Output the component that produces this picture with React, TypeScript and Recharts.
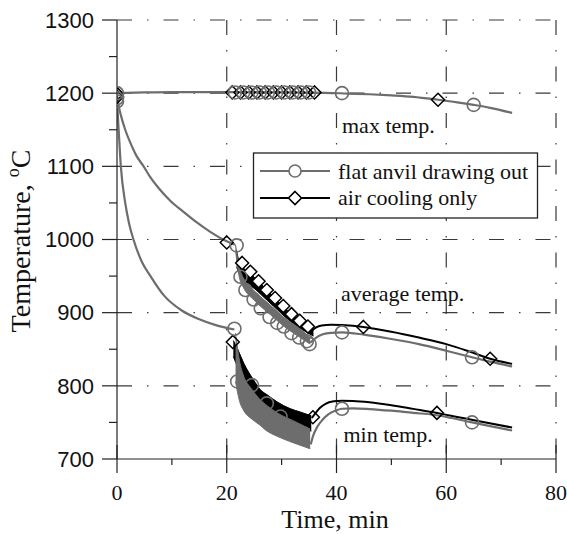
import React from 'react';
import { ComposedChart, Line, Area, Scatter, XAxis, YAxis, CartesianGrid } from 'recharts';

const GRAY = '#6d6d6d';
const BLACK = '#000000';
const AXIS = '#222222';
const SERIF = '"Liberation Serif", "Times New Roman", serif';
const SANS = '"Liberation Sans", Arial, sans-serif';

const xTicks = [0, 10, 20, 30, 40, 50, 60, 70, 80];
const yTicks = [700, 750, 800, 850, 900, 950, 1000, 1050, 1100, 1150, 1200, 1250, 1300];
const xGrid = [20, 40, 60, 80];
const yGrid = [800, 900, 1000, 1100, 1200, 1300];

// max temp. (both cases lie on top of each other)
const maxTemp = [
  [0, 1200], [5, 1201], [10, 1201.5], [20, 1201.5], [30, 1201], [38, 1200.5], [42, 1199.5],
  [46, 1198.5], [50, 1197], [54, 1195], [58.5, 1191], [62, 1187.5], [65, 1184], [68, 1180], [72, 1173],
];

// before forging (both cases identical)
const avgPre = [
  [0, 1197], [0.3, 1183], [0.7, 1170], [1.5, 1150], [2.5, 1131], [3.5, 1115], [4.85, 1100], [6, 1086],
  [7.5, 1071], [9.7, 1053], [12, 1038.5], [14.6, 1023], [17, 1010.5], [20, 997.5], [21.5, 993],
];
const minPre = [
  [0, 1195], [0.15, 1170], [0.3, 1150], [0.7, 1100], [1.5, 1050], [2.2, 1022], [3, 1000], [4.5, 970],
  [6.1, 950], [8.5, 924], [11.8, 903], [15, 891], [18, 883], [21.4, 877],
];

// forging passes: [time, low, high]
const avgAirBand = [
  [21.8, 962, 985], [22.2, 955, 972], [25.5, 930, 945], [28.5, 909, 922], [31.6, 888, 899], [35.8, 868, 877],
];
const avgFlatBand = [
  [21.6, 985, 993], [22.3, 948, 962], [23, 935, 948], [25, 917, 930], [28, 897, 910], [31, 878, 890],
  [33, 868, 880], [35.2, 857, 866],
];
const minAirBand = [
  [21.2, 840, 862], [22, 825, 850], [23.1, 805, 831], [24.9, 785, 808], [26.1, 775, 795], [27.5, 767, 787],
  [29.2, 758, 778], [31.5, 750, 769], [33.5, 744, 764], [35.4, 738, 759],
];
const minFlatBand = [
  [21.6, 806, 872], [22.3, 780, 835], [23.1, 766, 813], [24.5, 755, 796], [26.1, 746, 781], [27, 740, 775],
  [29.2, 731, 763], [32.2, 722, 752], [35.2, 714, 741],
];

// after forging
const avgFlatPost = [
  [35.2, 859], [35.8, 863], [36.5, 867], [37.5, 870.5], [39, 872.5], [41, 873], [45, 870], [50, 864],
  [55, 857], [60, 848], [64.7, 839], [68, 833], [72, 826.5],
];
const avgAirPost = [
  [35.6, 876], [36.3, 880], [37.3, 882.5], [39, 883.5], [41, 883], [44.9, 880.5], [50, 874], [55, 866],
  [60, 857], [64, 847.5], [68, 837], [72, 830],
];
const minFlatPost = [
  [35.3, 720], [35.8, 733], [36.5, 744], [37.5, 754], [38.5, 761], [40, 766.5], [41, 768.7], [43, 769.3],
  [46, 768.3], [50, 766], [54, 763], [57.7, 760.5], [61, 756], [64.7, 750], [68, 745], [72, 739],
];
const minAirPost = [
  [35.5, 756], [36.2, 763], [37, 770], [38, 775.5], [39.5, 778.8], [41, 779.6], [43, 779.3], [46, 777.5],
  [50, 773.5], [54, 768.5], [58.3, 763], [62, 757.5], [66, 751.5], [72, 743],
];

// markers
const flatCircles = [
  [0, 1200], [0, 1193], [0, 1189],
  [21.5, 1201], [23, 1201], [24.5, 1201], [26, 1201], [27.5, 1201], [29, 1201], [30.5, 1201], [32, 1201],
  [33.5, 1201], [35, 1201], [41, 1200], [65, 1184],
  [21.8, 992], [22.5, 949], [23.4, 931], [24.9, 918], [26.2, 906], [27.8, 894], [29.2, 886], [30.4, 881],
  [31.8, 872], [33.2, 866], [34.6, 861], [35.1, 857], [41, 873], [64.7, 839],
  [21.4, 878], [21.9, 806], [24.6, 801], [27.3, 776], [29.8, 758], [41, 768.7], [64.7, 750],
];
const airDiamonds = [
  [0, 1199], [0, 1195],
  [21, 1201], [22.5, 1201], [24, 1201], [25.5, 1201], [27, 1201], [28.5, 1201], [30, 1201], [31.5, 1201],
  [33, 1201], [34.5, 1201], [36, 1201], [58.5, 1191],
  [20, 996], [44.9, 880.5], [68, 837],
  [21.1, 860], [35.7, 757], [58.3, 763],
];
const airAvgDiamonds = [
  [22.8, 968], [24.3, 956], [25.8, 943], [27.3, 931], [28.8, 920], [30.3, 909], [31.8, 898], [33.3, 889],
  [34.8, 881],
];

const pts = (a: number[][]) => a.map(([t, v]) => ({ t, v }));
const band = (a: number[][]) => a.map(([t, lo, hi]) => ({ t, r: [lo, hi] }));

const circleShape = (p: any) => (
  <circle cx={p.cx} cy={p.cy} r={6.5} fill="none" stroke={GRAY} strokeWidth={1.6} />
);
const diamondShape = (fill: string) => (p: any) => (
  <path
    d={`M${p.cx},${p.cy - 6.5}L${p.cx + 6.5},${p.cy}L${p.cx},${p.cy + 6.5}L${p.cx - 6.5},${p.cy}Z`}
    fill={fill}
    stroke={BLACK}
    strokeWidth={1.5}
  />
);

const XTick = (props: any) => {
  const { x, y, payload } = props;
  const v = payload.value;
  const major = v % 20 === 0;
  return (
    <g>
      {major ? (
        <line x1={x} x2={x} y1={y - 14} y2={y + 14} stroke={AXIS} strokeWidth={1.2} />
      ) : (
        <line x1={x} x2={x} y1={y} y2={y + 6} stroke={AXIS} strokeWidth={1.2} />
      )}
      {major && (
        <text x={x} y={y + 40.5} textAnchor="middle" fontFamily={SERIF} fontSize={22} fill="#111">
          {v}
        </text>
      )}
    </g>
  );
};

const YTick = (props: any) => {
  const { x, y, payload } = props;
  const v = payload.value;
  const major = v % 100 === 0;
  return (
    <g>
      <line x1={x - (major ? 15 : 8)} x2={x} y1={y} y2={y} stroke={AXIS} strokeWidth={1.2} />
      {major && (
        <text x={x - 23} y={y + 7.8} textAnchor="end" fontFamily={SANS} fontSize={22} fill="#111">
          {v}
        </text>
      )}
    </g>
  );
};

export default function App() {
  return (
    <div style={{ position: 'absolute', left: 0, top: 0, width: 567, height: 534, background: '#fff' }}>
      <ComposedChart width={567} height={534} margin={{ top: 20, right: 11, bottom: 0, left: 0 }}>
        <CartesianGrid
          horizontalValues={yGrid}
          verticalValues={xGrid}
          stroke="#3a3a3a"
          strokeWidth={1.2}
          strokeDasharray="15 15 1.5 15"
        />
        <XAxis
          dataKey="t"
          type="number"
          domain={[0, 80]}
          ticks={xTicks}
          interval={0}
          height={75}
          tick={<XTick />}
          tickLine={false}
          tickSize={0}
          tickMargin={0}
          axisLine={{ stroke: AXIS, strokeWidth: 1.2 }}
          allowDataOverflow
        />
        <YAxis
          dataKey="v"
          type="number"
          domain={[700, 1300]}
          ticks={yTicks}
          interval={0}
          width={117}
          tick={<YTick />}
          tickLine={false}
          tickSize={0}
          tickMargin={0}
          axisLine={{ stroke: AXIS, strokeWidth: 1.2 }}
          allowDataOverflow
        />

        <Area data={band(avgAirBand)} dataKey="r" type="monotone" stroke={BLACK} strokeWidth={1} fill={BLACK} fillOpacity={1} isAnimationActive={false} />
        <Area data={band(minAirBand)} dataKey="r" type="monotone" stroke={BLACK} strokeWidth={1} fill={BLACK} fillOpacity={1} isAnimationActive={false} />
        <Area data={band(avgFlatBand)} dataKey="r" type="monotone" stroke={GRAY} strokeWidth={1} fill={GRAY} fillOpacity={1} isAnimationActive={false} />
        <Area data={band(minFlatBand)} dataKey="r" type="monotone" stroke={GRAY} strokeWidth={1} fill={GRAY} fillOpacity={1} isAnimationActive={false} />

        <Line data={pts(avgAirPost)} dataKey="v" type="monotone" stroke={BLACK} strokeWidth={2} dot={false} isAnimationActive={false} />
        <Line data={pts(minAirPost)} dataKey="v" type="monotone" stroke={BLACK} strokeWidth={2} dot={false} isAnimationActive={false} />
        <Line data={pts(maxTemp)} dataKey="v" type="monotone" stroke={GRAY} strokeWidth={2.2} dot={false} isAnimationActive={false} />
        <Line data={pts(avgPre)} dataKey="v" type="monotone" stroke={GRAY} strokeWidth={2.2} dot={false} isAnimationActive={false} />
        <Line data={pts(minPre)} dataKey="v" type="monotone" stroke={GRAY} strokeWidth={2.2} dot={false} isAnimationActive={false} />
        <Line data={pts(avgFlatPost)} dataKey="v" type="monotone" stroke={GRAY} strokeWidth={2.2} dot={false} isAnimationActive={false} />
        <Line data={pts(minFlatPost)} dataKey="v" type="monotone" stroke={GRAY} strokeWidth={2.2} dot={false} isAnimationActive={false} />

        <Scatter data={pts(airAvgDiamonds)} shape={diamondShape('#ffffff')} isAnimationActive={false} />
        <Scatter data={pts(airDiamonds)} shape={diamondShape('none')} isAnimationActive={false} />
        <Scatter data={pts(flatCircles)} shape={circleShape} isAnimationActive={false} />
      </ComposedChart>

      <svg width={567} height={534} style={{ position: 'absolute', left: 0, top: 0, pointerEvents: 'none' }}>
        <text x={342} y={133} fontFamily={SERIF} fontSize={22} fill="#111">max temp.</text>
        <text x={341} y={301} fontFamily={SERIF} fontSize={22} fill="#111">average temp.</text>
        <text x={343.5} y={442} fontFamily={SERIF} fontSize={22} fill="#111">min temp.</text>

        <rect x={253.5} y={153} width={284} height={65} fill="#fff" stroke={AXIS} strokeWidth={1.3} />
        <line x1={260} x2={330} y1={171} y2={171} stroke={GRAY} strokeWidth={2.2} />
        <circle cx={295} cy={171} r={6} fill="#fff" stroke={GRAY} strokeWidth={1.6} />
        <text x={338} y={178.5} fontFamily={SERIF} fontSize={22} fill="#111">flat anvil drawing out</text>
        <line x1={260} x2={330} y1={198} y2={198} stroke={BLACK} strokeWidth={2} />
        <path d="M295,191.5L301.5,198L295,204.5L288.5,198Z" fill="#fff" stroke={BLACK} strokeWidth={1.6} />
        <text x={338} y={205} fontFamily={SERIF} fontSize={22} fill="#111">air cooling only</text>

        <text x={335} y={527.5} textAnchor="middle" fontFamily={SERIF} fontSize={26} fill="#111">Time, min</text>
        <text
          transform="translate(30,241) rotate(-90)"
          textAnchor="middle"
          fontFamily={SERIF}
          fontSize={28}
          fill="#111"
        >
          Temperature,{' '}
          <tspan fontSize={18} dy={-11}>o</tspan>
          <tspan dy={11}>C</tspan>
        </text>
      </svg>
    </div>
  );
}
